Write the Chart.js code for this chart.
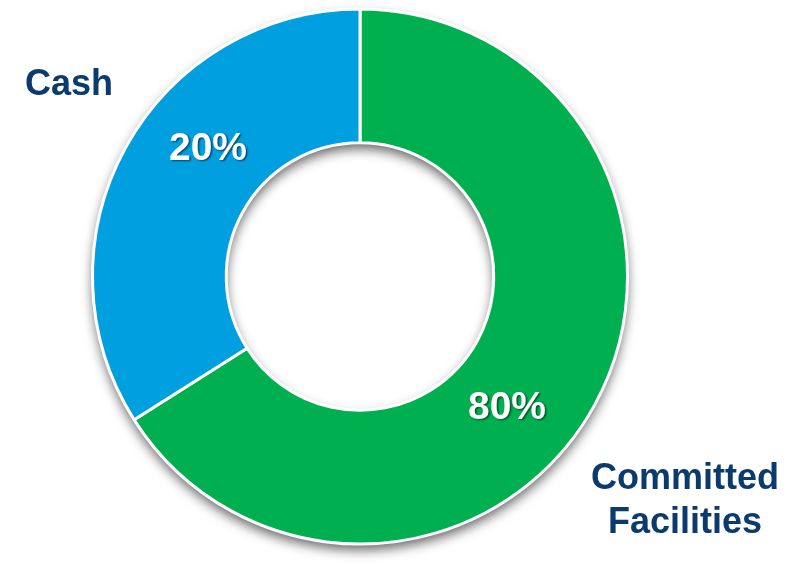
<!DOCTYPE html>
<html>
<head>
<meta charset="utf-8">
<script src="https://cdn.jsdelivr.net/npm/chart.js@4"></script>
<style>
  html, body { margin: 0; padding: 0; background: #fff; }
  canvas { display: block; }
</style>
</head>
<body>
<canvas id="myChart" width="790" height="568"></canvas>
<script>
// Chart data (slice shares as drawn, labels as printed)
const categories = ['Committed Facilities', 'Cash'];
const shares = [66, 34];
const pctLabels = ['80%', '20%'];
const sliceColors = ['#00B050', '#009FDF'];

const NAVY = '#0A3A6E';

// Soft drop shadow under the whole ring (also falls into the hole)
const ringShadow = {
  id: 'ringShadow',
  beforeDatasetsDraw(chart) {
    const arc = chart.getDatasetMeta(0).data[0];
    if (!arc) return;
    const { x, y, outerRadius, innerRadius } = arc;
    const ctx = chart.ctx;
    ctx.save();
    ctx.shadowColor = 'rgba(0,0,0,0.6)';
    ctx.shadowBlur = 12;
    ctx.shadowOffsetX = 0;
    ctx.shadowOffsetY = 6;
    ctx.fillStyle = '#fff';
    ctx.beginPath();
    ctx.arc(x, y, outerRadius, 0, Math.PI * 2);
    ctx.arc(x, y, innerRadius, 0, Math.PI * 2, true);
    ctx.fill('evenodd');
    ctx.restore();
  }
};

// Percent labels inside the slices and category labels outside
const textLabels = {
  id: 'textLabels',
  afterDatasetsDraw(chart) {
    const arc = chart.getDatasetMeta(0).data[0];
    if (!arc) return;
    const cx = arc.x, cy = arc.y;
    const ctx = chart.ctx;
    ctx.save();
    ctx.textAlign = 'center';
    ctx.textBaseline = 'alphabetic';

    // white percentages with a small shadow
    ctx.font = 'bold 39px "Liberation Sans", Arial, sans-serif';
    ctx.fillStyle = '#fff';
    ctx.shadowColor = 'rgba(0,0,0,0.55)';
    ctx.shadowBlur = 2;
    ctx.shadowOffsetX = 1.5;
    ctx.shadowOffsetY = 1.5;
    ctx.fillText(pctLabels[0], cx + 147, cy + 142);
    ctx.fillText(pctLabels[1], cx - 152, cy - 117);

    // navy category names
    ctx.shadowColor = 'transparent';
    ctx.font = 'bold 36px "Liberation Sans", Arial, sans-serif';
    ctx.fillStyle = NAVY;
    ctx.fillText(categories[1], 69, 95);
    const words = categories[0].split(' ');
    ctx.fillText(words[0], 685, 489);
    ctx.fillText(words[1], 685, 533);
    ctx.restore();
  }
};

const ctx = document.getElementById('myChart');
const myChart = new Chart(ctx, {
  type: 'doughnut',
  data: {
    labels: categories,
    datasets: [
      {
        data: shares,
        backgroundColor: sliceColors,
        borderColor: '#fff',
        borderWidth: 3,
        hoverBorderWidth: 3,
      },
    ],
  },
  options: {
    responsive: false,
    animation: false,
    cutout: '50%',
    layout: {
      padding: { left: 91, top: 7, right: 161, bottom: 22 },
    },
    plugins: {
      legend: { display: false },
      tooltip: { enabled: false },
    },
  },
  plugins: [ringShadow, textLabels],
});
</script>
</body>
</html>
